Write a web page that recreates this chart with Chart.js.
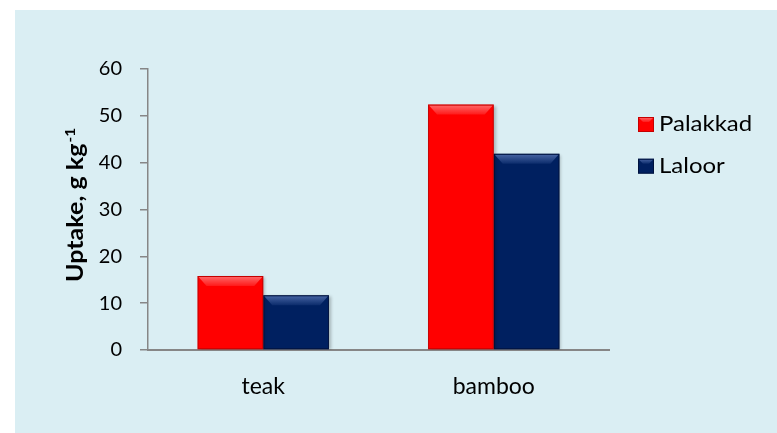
<!DOCTYPE html>
<html>
<head>
<meta charset="utf-8">
<script src="https://cdn.jsdelivr.net/npm/chart.js@4.4.1/dist/chart.umd.min.js"></script>
<style>
  html, body { margin: 0; padding: 0; background: #fff; }
  #wrap { width: 777px; height: 433px; }
</style>
</head>
<body>
<div id="wrap"><canvas id="uptakeChart" width="777" height="433"></canvas></div>
<script>
// uptake per species, two sites
const species = ['teak', 'bamboo'];
const palakkad = [15.8, 52.4];
const laloor = [11.7, 41.9];
const yTicks = [0, 10, 20, 30, 40, 50, 60];
const yTitle = 'Uptake, g kg';
const yTitleSup = '-1';

const FONT = 'Lato';

// lighter top face on each bar, like a bevelled block
function drawBevel(ctx, left, top, w, h, shade, band) {
    band = Math.min(band, h / 2);
    ctx.save();
    const g = ctx.createLinearGradient(0, top, 0, top + band);
    g.addColorStop(0, shade.light);
    g.addColorStop(1, shade.mid);
    ctx.fillStyle = g;
    ctx.beginPath();
    ctx.moveTo(left + 1, top + 1);
    ctx.lineTo(left + w - 1, top + 1);
    ctx.lineTo(left + w - 1 - band * 0.8, top + band);
    ctx.lineTo(left + 1 + band * 0.8, top + band);
    ctx.closePath();
    ctx.fill();
    ctx.strokeStyle = shade.edge;
    ctx.lineWidth = 1;
    ctx.strokeRect(left + 0.5, top + 0.5, w - 1, h - 1);
    ctx.restore();
}

const panelPlugin = {
    id: 'panel',
    beforeDraw(chart) {
        const ctx = chart.ctx;
        ctx.save();
        ctx.fillStyle = '#ffffff';
        ctx.fillRect(0, 0, chart.width, chart.height);
        ctx.fillStyle = '#DAEEF3';
        ctx.fillRect(15, 10, chart.width - 15, chart.height - 10);
        ctx.restore();
    }
};

const barShadow = {
    id: 'barShadow',
    beforeDatasetsDraw(chart) {
        const ctx = chart.ctx;
        ctx.save();
        ctx.shadowColor = 'rgba(0,0,0,0.25)';
        ctx.shadowBlur = 3;
        ctx.shadowOffsetX = 2;
        ctx.shadowOffsetY = 1;
    },
    afterDatasetsDraw(chart) {
        const ctx = chart.ctx;
        ctx.restore();
        chart.data.datasets.forEach((ds, i) => {
            chart.getDatasetMeta(i).data.forEach(bar => {
                const p = bar.getProps(['x', 'y', 'width', 'base'], true);
                drawBevel(ctx, p.x - p.width / 2, p.y, p.width, p.base - p.y, ds.shade, 10);
            });
        });
    }
};

const sideLegend = {
    id: 'sideLegend',
    afterDraw(chart) {
        const ctx = chart.ctx;
        chart.data.datasets.forEach((ds, i) => {
            const bx = 638, by = 117 + i * 41.7;
            ctx.save();
            ctx.fillStyle = ds.backgroundColor;
            ctx.fillRect(bx, by, 16, 15);
            ctx.restore();
            drawBevel(ctx, bx, by, 16, 15, ds.shade, 5);
            ctx.save();
            ctx.translate(659, 131 + i * 41.7);
            ctx.scale(1.09, 1);
            ctx.fillStyle = '#000';
            ctx.font = '22px ' + FONT;
            ctx.textBaseline = 'alphabetic';
            ctx.fillText(ds.label, 0, 0);
            ctx.restore();
        });
    }
};

// rotated axis title with the superscript exponent
const axisTitle = {
    id: 'axisTitle',
    afterDraw(chart) {
        const ctx = chart.ctx;
        ctx.save();
        ctx.translate(83, 282);
        ctx.rotate(-Math.PI / 2);
        ctx.scale(1.09, 1);
        ctx.fillStyle = '#000';
        ctx.textAlign = 'left';
        ctx.textBaseline = 'alphabetic';
        ctx.font = 'bold 23px ' + FONT;
        ctx.fillText(yTitle, 0, 0);
        const w = ctx.measureText(yTitle).width;
        ctx.font = 'bold 14px ' + FONT;
        ctx.fillText(yTitleSup, w + 1, -8);
        ctx.restore();
    }
};

new Chart(document.getElementById('uptakeChart'), {
    type: 'bar',
    data: {
        labels: species,
        datasets: [
            {
                label: 'Palakkad',
                data: palakkad,
                backgroundColor: '#FF0000',
                borderWidth: 0,
                shade: { light: '#FF6A6A', mid: '#FF1A1A', edge: 'rgba(150,0,0,0.55)' }
            },
            {
                label: 'Laloor',
                data: laloor,
                backgroundColor: '#002060',
                borderWidth: 0,
                shade: { light: '#4A67A6', mid: '#0C2C6C', edge: 'rgba(0,10,40,0.6)' }
            }
        ]
    },
    options: {
        responsive: false,
        animation: false,
        events: [],
        categoryPercentage: 0.57,
        barPercentage: 1.0,
        layout: { padding: { left: 0, top: 69, right: 168, bottom: 0 } },
        plugins: {
            legend: { display: false },
            tooltip: { enabled: false }
        },
        scales: {
            x: {
                grid: { display: false, drawTicks: false },
                border: { display: true, color: '#868686', width: 2 },
                ticks: { color: '#000', font: { family: FONT, size: 23 }, padding: 23 },
                afterFit: s => { s.height = 83; }
            },
            y: {
                min: yTicks[0],
                max: yTicks[yTicks.length - 1],
                ticks: {
                    stepSize: yTicks[1] - yTicks[0],
                    color: '#000',
                    font: { family: FONT, size: 20 },
                    padding: 18
                },
                grid: { drawOnChartArea: false, drawTicks: true, tickLength: 8, color: '#868686', lineWidth: 1.5 },
                border: { color: '#868686', width: 1.5 },
                afterFit: s => { s.width = 148; }
            }
        }
    },
    plugins: [panelPlugin, barShadow, sideLegend, axisTitle]
});
</script>
</body>
</html>
